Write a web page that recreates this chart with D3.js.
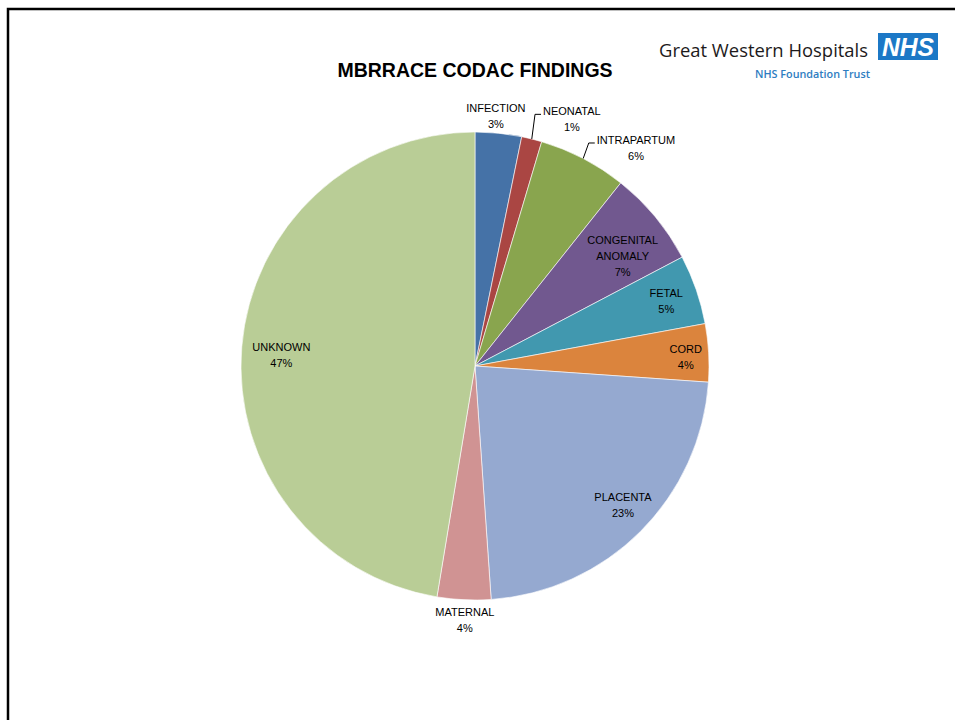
<!DOCTYPE html>
<html>
<head>
<meta charset="utf-8">
<script src="https://cdn.jsdelivr.net/npm/d3@7/dist/d3.min.js"></script>
<style>
  html, body { margin: 0; padding: 0; background: #fff; }
  svg { display: block; }
</style>
</head>
<body>
<svg id="chart" width="955" height="720"></svg>
<script>
// Cause-of-death categories, clockwise from 12 o'clock
const categories = ["INFECTION", "NEONATAL", "INTRAPARTUM", "CONGENITAL ANOMALY", "FETAL", "CORD", "PLACENTA", "MATERNAL", "UNKNOWN"];
// Share of findings (%)
const shares = [3.2, 1.4, 6.1, 6.6, 4.8, 4.0, 22.8, 3.7, 47.4];
const colors = ["#4572A7", "#AA4643", "#89A54E", "#71588F", "#4198AF", "#DB843D", "#95A9D0", "#D09393", "#B9CD96"];

const svg = d3.select("#chart");
const W = 955, H = 720;
const cx = 475, cy = 366, R = 234;
const FONT = "'Liberation Sans', Arial, sans-serif";

// Slide frame
svg.append("path")
  .attr("d", `M8,${H + 5} L8,9 L${W + 5},9`)
  .attr("fill", "none").attr("stroke", "#000").attr("stroke-width", 2.5);

// Title
svg.append("text")
  .attr("x", 475).attr("y", 77)
  .attr("text-anchor", "middle")
  .attr("font-family", FONT).attr("font-weight", "bold").attr("font-size", 19.5)
  .attr("fill", "#000")
  .text("MBRRACE CODAC FINDINGS");

// Trust logo
const logo = svg.append("g");
logo.append("text")
  .attr("x", 659).attr("y", 57)
  .attr("font-family", "'Open Sans', 'Noto Sans', sans-serif").attr("font-size", 19)
  .attr("fill", "#1d1a1b")
  .attr("textLength", 209).attr("lengthAdjust", "spacingAndGlyphs")
  .text("Great Western Hospitals");
logo.append("rect")
  .attr("x", 878).attr("y", 33).attr("width", 60).attr("height", 27)
  .attr("fill", "#1C78C6");
logo.append("text")
  .attr("x", 908).attr("y", 56)
  .attr("text-anchor", "middle")
  .attr("font-family", "'Liberation Sans', Arial, sans-serif").attr("font-weight", "bold")
  .attr("font-style", "italic").attr("font-size", 25)
  .attr("fill", "#fff")
  .attr("textLength", 52).attr("lengthAdjust", "spacingAndGlyphs")
  .text("NHS");
logo.append("text")
  .attr("x", 870).attr("y", 78)
  .attr("text-anchor", "end")
  .attr("font-family", "'Open Sans', 'Noto Sans', sans-serif").attr("font-weight", 600).attr("font-size", 11.5)
  .attr("fill", "#2E7DC1")
  .attr("textLength", 115).attr("lengthAdjust", "spacingAndGlyphs")
  .text("NHS Foundation Trust");

// Pie
const data = categories.map((c, i) => ({ name: c, value: shares[i], color: colors[i] }));
const pie = d3.pie().value(d => d.value).sort(null);
const arcs = pie(data);
const arc = d3.arc().innerRadius(0).outerRadius(R);

const g = svg.append("g").attr("transform", `translate(${cx},${cy})`);
g.selectAll("path.slice")
  .data(arcs)
  .join("path")
  .attr("class", "slice")
  .attr("d", arc)
  .attr("fill", d => d.data.color)
  .attr("stroke", "#fff")
  .attr("stroke-width", 0.6);

// Label placement: distance from centre and angular shift (degrees) from each slice's mid-angle
const labelRadius = [251, 265, 271, 184, 202, 211, 203, 254, 194];
const labelShift = [-1, 7.4, 8.9, 3, 0.3, 0.8, -1.8, -0.4, -1.5];
const outsideWithLeader = [false, true, true, false, false, false, false, false, false];

const midAngle = d => (d.startAngle + d.endAngle) / 2;
const labelXY = (d, i) => {
  const a = midAngle(d) + labelShift[i] * Math.PI / 180;
  return [Math.sin(a) * labelRadius[i], -Math.cos(a) * labelRadius[i]];
};

const LINE = 16;
arcs.forEach((d, i) => {
  const [lx, ly] = labelXY(d, i);
  const lines = d.data.name.split(" ");
  lines.push(Math.round(d.data.value) + "%");
  const n = lines.length;
  const t = g.append("text")
    .attr("text-anchor", "middle")
    .attr("font-family", FONT).attr("font-size", 11)
    .attr("fill", "#000");
  lines.forEach((s, k) => {
    t.append("tspan")
      .attr("x", lx)
      .attr("y", ly + (k - (n - 1) / 2) * LINE + 4)
      .text(s);
  });

  if (outsideWithLeader[i]) {
    const w = t.select("tspan").node().getComputedTextLength();
    const a = midAngle(d);
    const px = Math.sin(a) * R, py = -Math.cos(a) * R;
    const ex = lx - w / 2 - 2, ey = ly - 5;
    g.append("polyline")
      .attr("points", `${px},${py} ${ex - 6},${ey} ${ex},${ey}`)
      .attr("fill", "none").attr("stroke", "#000").attr("stroke-width", 1);
  }
});
</script>
</body>
</html>
